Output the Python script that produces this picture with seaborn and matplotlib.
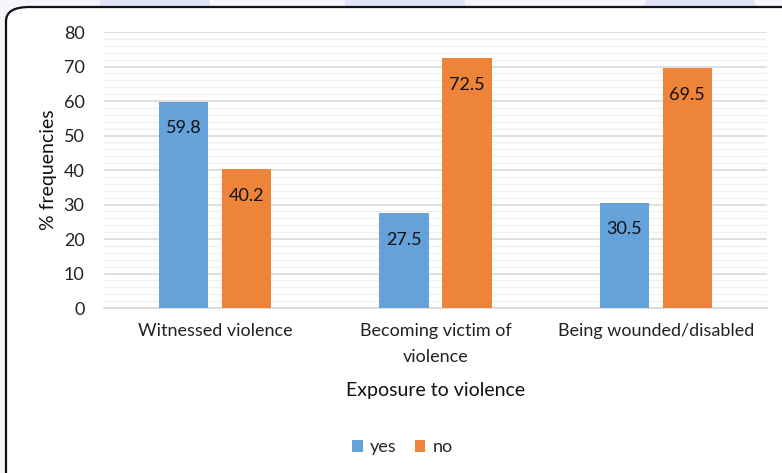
import matplotlib
matplotlib.use("Agg")
import matplotlib.pyplot as plt
from matplotlib.patches import FancyBboxPatch, Rectangle, Ellipse
import seaborn as sns
import pandas as pd

categories = ["Witnessed violence", "Becoming victim of\nviolence", "Being wounded/disabled"]
yes_values = [59.8, 27.5, 30.5]
no_values = [40.2, 72.5, 69.5]
series_names = ["yes", "no"]
y_ticks = [0, 10, 20, 30, 40, 50, 60, 70, 80]

df = pd.DataFrame({
    "category": categories * 2,
    "value": yes_values + no_values,
    "group": [series_names[0]] * 3 + [series_names[1]] * 3,
})

sns.set_theme(style="white")
plt.rcParams["font.family"] = ["Lato", "DejaVu Sans"]

fig = plt.figure(figsize=(7.82, 4.73), dpi=100)
fig.patch.set_facecolor("#f4f5fb")

# decorative strip behind the panel
for x0, w in [(100, 110), (345, 120)]:
    fig.patches.append(Rectangle((x0 / 782, 1 - 10 / 473), w / 782, 10 / 473,
                                 transform=fig.transFigure, facecolor="#e2e2f8",
                                 edgecolor="none", zorder=0))
fig.patches.append(Ellipse((700 / 782, 1 - 5 / 473), 110 / 782, 40 / 473,
                           transform=fig.transFigure, facecolor="#e2e2f8",
                           edgecolor="none", zorder=0))

# white panel with rounded frame
panel = FancyBboxPatch((6 / 782, -0.05), 800 / 782, (473 - 7) / 473 + 0.05,
                       boxstyle="round,pad=0,rounding_size=0.03",
                       transform=fig.transFigure, facecolor="white",
                       edgecolor="#111111", linewidth=1.6, zorder=1)
fig.patches.append(panel)

ax = fig.add_axes([104 / 782, 1 - 308 / 473, (767 - 104) / 782, (308 - 32) / 473])
ax.set_zorder(2)
ax.set_facecolor("none")

palette = {"yes": "#65a2d9", "no": "#ee843a"}
sns.barplot(data=df, x="category", y="value", hue="group", palette=palette,
            width=0.573, gap=0.22, saturation=1, ax=ax, legend=True,
            edgecolor="none", zorder=3)

ax.set_ylim(0, 80)
ax.set_xlim(-0.505, 2.505)
ax.set_yticks(y_ticks)
ax.set_yticks(range(0, 81, 2), minor=True)
ax.grid(axis="y", which="major", color="#d9d9d9", linewidth=1.2, zorder=0)
ax.grid(axis="y", which="minor", color="#f0f0f0", linewidth=1.0, zorder=0)
ax.set_axisbelow(True)
for s in ["left", "right", "top"]:
    ax.spines[s].set_visible(False)
ax.spines["bottom"].set_color("#d9d9d9")
ax.spines["bottom"].set_linewidth(1.2)
ax.tick_params(axis="both", which="both", length=0, labelsize=13, colors="#222222")
ax.tick_params(axis="y", pad=14)
ax.tick_params(axis="x", pad=11)
for t in ax.get_xticklabels():
    t.set_linespacing(1.75)

for container in ax.containers:
    labels = [f"{b.get_height():.1f}" for b in container]
    ax.bar_label(container, labels=labels, padding=-25, fontsize=13, color="#111111")

ax.set_ylabel("% frequencies", fontsize=14, color="#111111", labelpad=5)
ax.set_xlabel("Exposure to violence", fontsize=14, color="#111111", labelpad=12)

handles, labels = ax.get_legend_handles_labels()
ax.legend(handles, labels, loc="center", bbox_to_anchor=(0.45, -0.505), ncol=2,
          frameon=False, fontsize=13, handlelength=0.6, handleheight=0.6,
          handletextpad=0.4, columnspacing=1.0)

fig.savefig("out.png", dpi=100)
